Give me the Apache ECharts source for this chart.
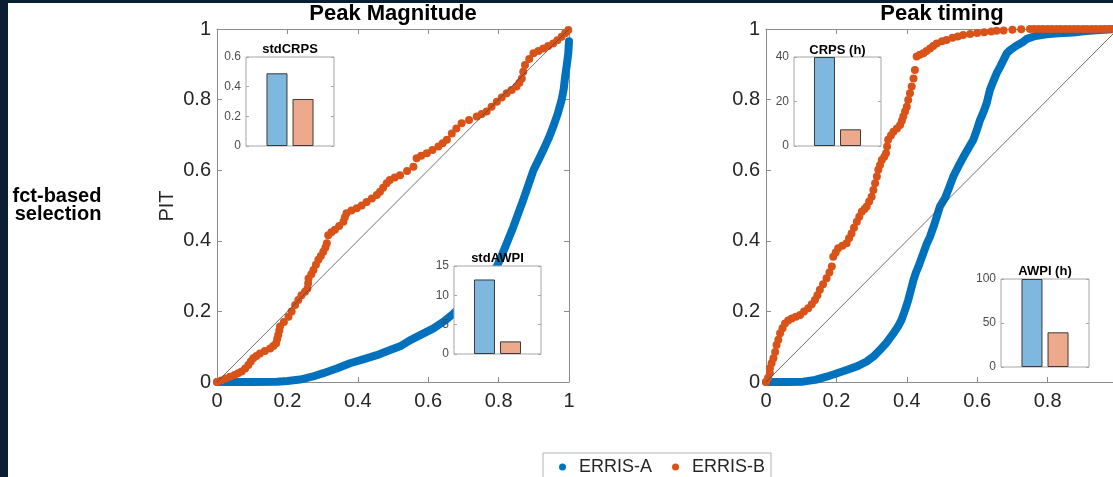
<!DOCTYPE html>
<html>
<head>
<meta charset="utf-8">
<title>PIT diagrams</title>
<script src="https://cdn.jsdelivr.net/npm/echarts@6/dist/echarts.min.js"></script>
<style>
  html, body { margin: 0; padding: 0; background: #ffffff; }
  #chart { width: 1113px; height: 477px; }
</style>
</head>
<body>
<div id="chart"></div>
<script>
// ---- Panel titles and labels ----
const panelTitles = ['Peak Magnitude', 'Peak timing'];
const rowLabel = ['fct-based', 'selection'];
const yTitle = 'PIT';
const seriesNames = ['ERRIS-A', 'ERRIS-B'];

// ---- Peak magnitude: sorted PIT values vs. uniform quantiles ----
const magA = [
  [0, 0], [0.05, 0], [0.1, 0], [0.17, 0.001], [0.2, 0.003], [0.236, 0.007], [0.27, 0.015],
  [0.302, 0.025], [0.34, 0.038], [0.378, 0.053], [0.415, 0.064], [0.454, 0.076], [0.49, 0.09],
  [0.52, 0.101], [0.548, 0.118], [0.58, 0.134], [0.615, 0.152], [0.645, 0.172], [0.672, 0.194],
  [0.7, 0.22], [0.73, 0.25], [0.76, 0.285], [0.795, 0.327], [0.82, 0.385], [0.842, 0.44],
  [0.87, 0.516], [0.899, 0.6], [0.915, 0.632], [0.927, 0.657], [0.942, 0.69], [0.955, 0.723],
  [0.968, 0.76], [0.979, 0.799], [0.985, 0.83], [0.989, 0.865], [0.994, 0.9], [0.998, 0.931],
  [1.0, 0.965]
];
const magB = [
  [0, 0], [0.012, 0.004], [0.025, 0.01], [0.037, 0.015], [0.05, 0.02], [0.06, 0.025],
  [0.07, 0.03], [0.08, 0.038], [0.089, 0.048], [0.096, 0.058], [0.103, 0.067], [0.112, 0.074],
  [0.122, 0.081], [0.136, 0.088], [0.151, 0.095], [0.16, 0.102], [0.168, 0.11], [0.171, 0.122],
  [0.174, 0.133], [0.177, 0.146], [0.179, 0.157], [0.19, 0.17], [0.203, 0.185], [0.212, 0.2],
  [0.222, 0.218], [0.231, 0.232], [0.24, 0.246], [0.25, 0.256], [0.257, 0.265], [0.259, 0.28],
  [0.26, 0.293], [0.268, 0.305], [0.274, 0.317], [0.281, 0.332], [0.288, 0.346], [0.295, 0.357],
  [0.302, 0.369], [0.308, 0.381], [0.312, 0.393], [0.316, 0.416], [0.325, 0.424], [0.335, 0.431],
  [0.347, 0.442], [0.359, 0.454], [0.363, 0.466], [0.368, 0.478], [0.382, 0.486], [0.397, 0.492],
  [0.411, 0.5], [0.425, 0.51], [0.44, 0.52], [0.454, 0.53], [0.463, 0.539], [0.472, 0.55],
  [0.482, 0.563], [0.491, 0.572], [0.505, 0.579], [0.52, 0.586], [0.54, 0.598], [0.558, 0.61],
  [0.567, 0.634], [0.58, 0.641], [0.596, 0.648], [0.612, 0.657], [0.629, 0.667], [0.641, 0.676],
  [0.653, 0.686], [0.667, 0.704], [0.68, 0.718], [0.695, 0.733], [0.716, 0.742], [0.738, 0.752],
  [0.752, 0.759], [0.766, 0.766], [0.78, 0.78], [0.795, 0.794], [0.809, 0.806], [0.823, 0.818],
  [0.837, 0.827], [0.851, 0.837], [0.859, 0.848], [0.866, 0.86], [0.87, 0.879], [0.875, 0.898],
  [0.887, 0.915], [0.899, 0.931], [0.913, 0.938], [0.927, 0.945], [0.941, 0.952], [0.955, 0.959],
  [0.967, 0.968], [0.979, 0.978], [0.989, 0.988], [0.998, 0.997]
];

// ---- Peak timing ----
const timA = [
  [0, 0], [0.06, 0], [0.106, 0.001], [0.14, 0.006], [0.172, 0.015], [0.2, 0.024], [0.229, 0.034],
  [0.26, 0.045], [0.286, 0.058], [0.305, 0.072], [0.324, 0.091], [0.343, 0.112], [0.362, 0.138],
  [0.375, 0.157], [0.385, 0.176], [0.395, 0.204], [0.404, 0.232], [0.412, 0.262], [0.419, 0.289],
  [0.426, 0.31], [0.433, 0.327], [0.447, 0.365], [0.456, 0.39], [0.466, 0.412], [0.476, 0.44],
  [0.485, 0.468], [0.494, 0.497], [0.509, 0.522], [0.52, 0.55], [0.532, 0.582], [0.546, 0.61],
  [0.561, 0.638], [0.575, 0.662], [0.589, 0.686], [0.599, 0.714], [0.608, 0.742], [0.618, 0.765],
  [0.627, 0.79], [0.636, 0.827], [0.645, 0.85], [0.655, 0.874], [0.665, 0.893], [0.684, 0.931],
  [0.693, 0.94], [0.71, 0.952], [0.731, 0.964], [0.741, 0.972], [0.765, 0.98], [0.797, 0.985],
  [0.83, 0.988], [0.873, 0.99], [0.91, 0.994], [0.95, 0.997], [1.0, 1.0]
];
const timB = [
  [0, 0], [0.006, 0.012], [0.011, 0.025], [0.011, 0.039], [0.016, 0.053], [0.021, 0.067],
  [0.026, 0.085], [0.03, 0.105], [0.035, 0.12], [0.04, 0.138], [0.047, 0.152], [0.054, 0.166],
  [0.063, 0.174], [0.073, 0.18], [0.085, 0.185], [0.097, 0.19], [0.108, 0.2], [0.12, 0.209],
  [0.13, 0.22], [0.139, 0.232], [0.146, 0.246], [0.153, 0.261], [0.162, 0.277], [0.172, 0.294],
  [0.18, 0.31], [0.187, 0.327], [0.191, 0.355], [0.198, 0.367], [0.205, 0.379], [0.217, 0.386],
  [0.229, 0.393], [0.236, 0.407], [0.243, 0.421], [0.25, 0.437], [0.258, 0.454], [0.265, 0.468],
  [0.272, 0.482], [0.28, 0.49], [0.286, 0.497], [0.293, 0.511], [0.3, 0.525], [0.305, 0.544],
  [0.31, 0.563], [0.315, 0.582], [0.319, 0.601], [0.324, 0.615], [0.329, 0.629], [0.336, 0.638],
  [0.341, 0.648], [0.344, 0.667], [0.347, 0.686], [0.355, 0.698], [0.362, 0.709], [0.372, 0.718],
  [0.381, 0.728], [0.386, 0.74], [0.39, 0.752], [0.395, 0.766], [0.4, 0.78], [0.404, 0.799],
  [0.409, 0.818], [0.414, 0.837], [0.419, 0.86], [0.423, 0.884], [0.428, 0.922], [0.437, 0.927],
  [0.447, 0.931], [0.456, 0.938], [0.466, 0.945], [0.475, 0.952], [0.485, 0.959], [0.5, 0.965],
  [0.513, 0.969], [0.53, 0.975], [0.545, 0.979], [0.56, 0.983], [0.58, 0.986], [0.6, 0.989],
  [0.62, 0.991], [0.64, 0.993], [0.655, 0.995], [0.675, 0.996], [0.7, 0.998], [0.725, 0.999],
  [0.75, 1.0], [0.762, 1.0], [0.775, 1.0], [0.787, 1.0], [0.8, 1.0], [0.812, 1.0], [0.825, 1.0],
  [0.837, 1.0], [0.85, 1.0], [0.862, 1.0], [0.875, 1.0], [0.887, 1.0], [0.9, 1.0], [0.912, 1.0],
  [0.925, 1.0], [0.937, 1.0], [0.95, 1.0], [0.962, 1.0], [0.975, 1.0], [0.987, 1.0], [1.0, 1.0]
];

// 1:1 reference line
const diagonal = [[0, 0], [1, 1]];

// ---- Inset scores: [ERRIS-A, ERRIS-B] ----
const insetTitles = ['stdCRPS', 'stdAWPI', 'CRPS (h)', 'AWPI (h)'];
const stdCRPS = [0.49, 0.317];
const stdAWPI = [12.7, 2.15];
const crpsHours = [40, 7.5];
const awpiHours = [100, 39.4];
const insetMax = [0.6, 15, 40, 100];
const insetStep = [0.2, 5, 20, 50];

// ---- Styling ----
const BLUE = '#0072BD';
const ORANGE = '#D95319';
const BAR_BLUE = '#7fb8de';
const BAR_ORANGE = '#eca98c';
const INK = '#262626';
const FRAME = '#8c8c8c';
const FONT = '"Liberation Sans", Arial, Helvetica, sans-serif';

const chart = echarts.init(document.getElementById('chart'), null, { renderer: 'canvas' });

// main panels: [left, top, width, height]
const mainBoxes = [[217, 29, 352, 353], [766, 29, 352, 353]];
// insets: [left, top, width, height]
const insetBoxes = [[246, 57, 88, 89], [454, 266, 87, 88], [794, 57, 87, 89], [1001, 279, 88, 88]];
const insetValues = [stdCRPS, stdAWPI, crpsHours, awpiHours];

const grids = [];
const xAxes = [];
const yAxes = [];
const series = [];

function valueAxis(gridIndex, position, showLabels) {
  return {
    type: 'value', gridIndex: gridIndex, position: position,
    min: 0, max: 1, interval: 0.2,
    axisLine: { show: true, onZero: false, lineStyle: { color: FRAME, width: 1 } },
    axisTick: { show: true, inside: true, length: 5, lineStyle: { color: FRAME } },
    axisLabel: { show: showLabels, fontSize: 20, color: INK, fontFamily: FONT, margin: position === 'bottom' ? 9 : 6 },
    splitLine: { show: false }
  };
}

mainBoxes.forEach(function (b, i) {
  grids.push({
    left: b[0], top: b[1], width: b[2], height: b[3],
    containLabel: false, outerBoundsMode: 'none', z: 0
  });
  xAxes.push(valueAxis(i, 'bottom', true));
  xAxes.push(valueAxis(i, 'top', false));
  yAxes.push(valueAxis(i, 'left', true));
  yAxes.push(valueAxis(i, 'right', false));
});

insetBoxes.forEach(function (b, k) {
  const g = grids.length;
  grids.push({
    left: b[0], top: b[1], width: b[2], height: b[3], z: 10,
    containLabel: false, outerBoundsMode: 'none',
    show: true, backgroundColor: '#ffffff', borderColor: '#a6a6a6', borderWidth: 1
  });
  xAxes.push({
    type: 'category', gridIndex: g, data: [''], z: 12,
    axisLine: { show: false }, axisTick: { show: false }, axisLabel: { show: false }
  });
  const yl = yAxes.length;
  yAxes.push({
    type: 'value', gridIndex: g, position: 'left', min: 0, max: insetMax[k], interval: insetStep[k], z: 12,
    axisLine: { show: false },
    axisTick: { show: true, inside: true, length: 3, lineStyle: { color: '#a6a6a6' } },
    axisLabel: { fontSize: 12, color: '#4d4d4d', fontFamily: FONT, margin: 5 },
    splitLine: { show: false }
  });
  yAxes.push({
    type: 'value', gridIndex: g, position: 'right', min: 0, max: insetMax[k], interval: insetStep[k], z: 12,
    axisLine: { show: false },
    axisTick: { show: true, inside: true, length: 3, lineStyle: { color: '#a6a6a6' } },
    axisLabel: { show: false }, splitLine: { show: false }
  });
  const xi = xAxes.length - 1;
  [BAR_BLUE, BAR_ORANGE].forEach(function (c, s) {
    series.push({
      type: 'bar', name: insetTitles[k] + ' ' + seriesNames[s],
      xAxisIndex: xi, yAxisIndex: yl, z: 11,
      barWidth: 21, barGap: '24%',
      data: [insetValues[k][s]],
      itemStyle: { color: c, borderColor: '#3a3a3a', borderWidth: 1 },
      silent: true
    });
  });
});

// Curves: ERRIS-A drawn as a dense band, ERRIS-B as dots
[[magA, magB], [timA, timB]].forEach(function (pair, i) {
  const xi = i * 2, yi = i * 2;
  series.push({
    type: 'line', name: seriesNames[0], xAxisIndex: xi, yAxisIndex: yi, data: pair[0],
    showSymbol: false, symbol: 'circle', clip: false, z: 2,
    itemStyle: { color: BLUE },
    lineStyle: { color: BLUE, width: 8, cap: 'round', join: 'round' }
  });
  series.push({
    type: 'scatter', name: seriesNames[1], xAxisIndex: xi, yAxisIndex: yi, data: pair[1],
    symbol: 'circle', symbolSize: 8, clip: false, z: 3,
    itemStyle: { color: ORANGE, opacity: 1 }
  });
  series.push({
    type: 'line', name: 'diag' + i, xAxisIndex: xi, yAxisIndex: yi, data: diagonal,
    showSymbol: false, z: 4, silent: true,
    lineStyle: { color: '#4a4a4a', width: 0.8 }
  });
});

function label(text, x, y, font, color, extra) {
  return Object.assign({
    type: 'text', x: x, y: y, z: 50, silent: true,
    style: {
      text: text, font: font, fill: color || INK,
      align: 'center', verticalAlign: 'middle',
      textAlign: 'center', textVerticalAlign: 'middle'
    }
  }, extra || {});
}

const graphics = [
  { type: 'rect', shape: { x: 0, y: 0, width: 8, height: 477 }, style: { fill: '#0b1f33' }, z: 100, silent: true },
  { type: 'rect', shape: { x: 0, y: 0, width: 1113, height: 3 }, style: { fill: '#0b1f33' }, z: 100, silent: true },
  label(panelTitles[0], 393, 14, 'bold 22px ' + FONT, '#000'),
  label(panelTitles[1], 942, 14, 'bold 22px ' + FONT, '#000'),
  label(yTitle, 167, 206, '20px ' + FONT, INK, { rotation: Math.PI / 2 }),
  label(rowLabel[0], 57, 196, 'bold 20px ' + FONT, '#000'),
  label(rowLabel[1], 58, 214, 'bold 20px ' + FONT, '#000'),
  label(insetTitles[0], 290, 49, 'bold 13px ' + FONT, '#000'),
  label(insetTitles[1], 497.5, 258, 'bold 13px ' + FONT, '#000'),
  label(insetTitles[2], 837.5, 50, 'bold 13px ' + FONT, '#000'),
  label(insetTitles[3], 1045, 271, 'bold 13px ' + FONT, '#000')
];

chart.setOption({
  animation: false,
  backgroundColor: '#ffffff',
  textStyle: { fontFamily: FONT },
  grid: grids,
  xAxis: xAxes,
  yAxis: yAxes,
  series: series,
  legend: {
    data: [{ name: seriesNames[0], icon: 'circle' }, { name: seriesNames[1], icon: 'circle' }],
    left: 543, top: 453, orient: 'horizontal',
    padding: [5, 6, 10, 16], itemGap: 20, itemWidth: 7, itemHeight: 7,
    borderColor: '#b3b3b3', borderWidth: 1, backgroundColor: '#ffffff',
    selectedMode: false,
    textStyle: { fontSize: 18, color: INK, fontFamily: FONT, padding: [0, 0, 0, 8] }
  },
  graphic: graphics
});
</script>
</body>
</html>
